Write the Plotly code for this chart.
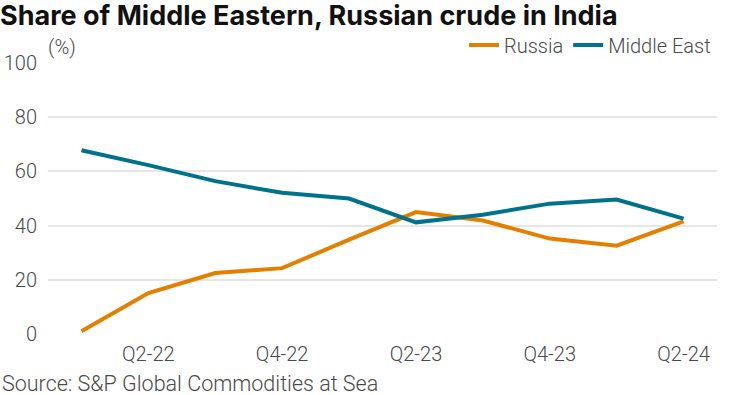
import plotly.graph_objects as go

quarters = ["Q1-22", "Q2-22", "Q3-22", "Q4-22", "Q1-23", "Q2-23", "Q3-23", "Q4-23", "Q1-24", "Q2-24"]
russia = [1.0, 15.1, 22.5, 24.3, 34.8, 45.0, 41.9, 35.2, 32.6, 41.6]
middle_east = [67.8, 62.3, 56.4, 52.1, 50.0, 41.2, 44.0, 48.1, 49.6, 42.6]
x_tick_labels = ["Q2-22", "Q4-22", "Q2-23", "Q4-23", "Q2-24"]
y_ticks = [0, 20, 40, 60, 80, 100]

ORANGE = "#E47F00"
TEAL = "#00728C"
FONT = "Roboto"
TXT = "#4a4a4a"

W, H = 750, 395
ML, MR, MT, MB = 48, 33, 63, 61
PW, PH = W - ML - MR, H - MT - MB

fig = go.Figure()
fig.add_trace(go.Scatter(x=quarters, y=russia, name="Russia", mode="lines",
                         line=dict(color=ORANGE, width=4), cliponaxis=False))
fig.add_trace(go.Scatter(x=quarters, y=middle_east, name="Middle East", mode="lines",
                         line=dict(color=TEAL, width=4), cliponaxis=False))

txtfont = dict(family=FONT, size=20, color=TXT, weight=300)

fig.update_layout(
    width=W, height=H,
    margin=dict(l=ML, r=MR, t=MT, b=MB, autoexpand=False),
    paper_bgcolor="white", plot_bgcolor="white",
    font=txtfont,
    title=dict(text="<b>Share of Middle Eastern, Russian crude in India</b>",
               x=0, xref="container", xanchor="left", y=1 - 16 / H, yref="container",
               yanchor="middle",
               font=dict(family="Inter", size=27, color="#111111"), pad=dict(l=0)),
    showlegend=True,
    legend=dict(orientation="h", x=(716 - ML) / PW, xanchor="right",
                y=(334 - 45) / PH, yanchor="middle",
                font=txtfont, itemwidth=30,
                bgcolor="rgba(0,0,0,0)", traceorder="normal"),
    xaxis=dict(type="category", range=[-0.5, 9.5], showgrid=False, zeroline=False,
               showline=False, ticks="", tickmode="array", automargin=False,
               tickvals=x_tick_labels, ticktext=x_tick_labels,
               tickfont=txtfont, ticklabelstandoff=6),
    yaxis=dict(range=[0, 100], tickvals=y_ticks, showgrid=True, gridcolor="#E6E6E6",
               gridwidth=1.5, zeroline=False, showline=False, ticks="", automargin=False,
               tickfont=txtfont, ticklabelstandoff=10),
    annotations=[
        dict(text="(%)", x=(46 - ML) / PW, xref="paper", y=(334 - 47) / PH, yref="paper",
             showarrow=False, xanchor="left", yanchor="middle", font=txtfont),
        dict(text="Source: S&P Global Commodities at Sea", x=(0 - ML) / PW,
             y=(334 - 383) / PH, showarrow=False,
             xref="paper", yref="paper", xanchor="left", yanchor="middle",
             font=dict(family=FONT, size=21.5, color=TXT)),
    ],
)

fig.write_html("out.html", config={"displayModeBar": False},
               post_script="document.body.style.margin='0';document.body.style.padding='0';")
